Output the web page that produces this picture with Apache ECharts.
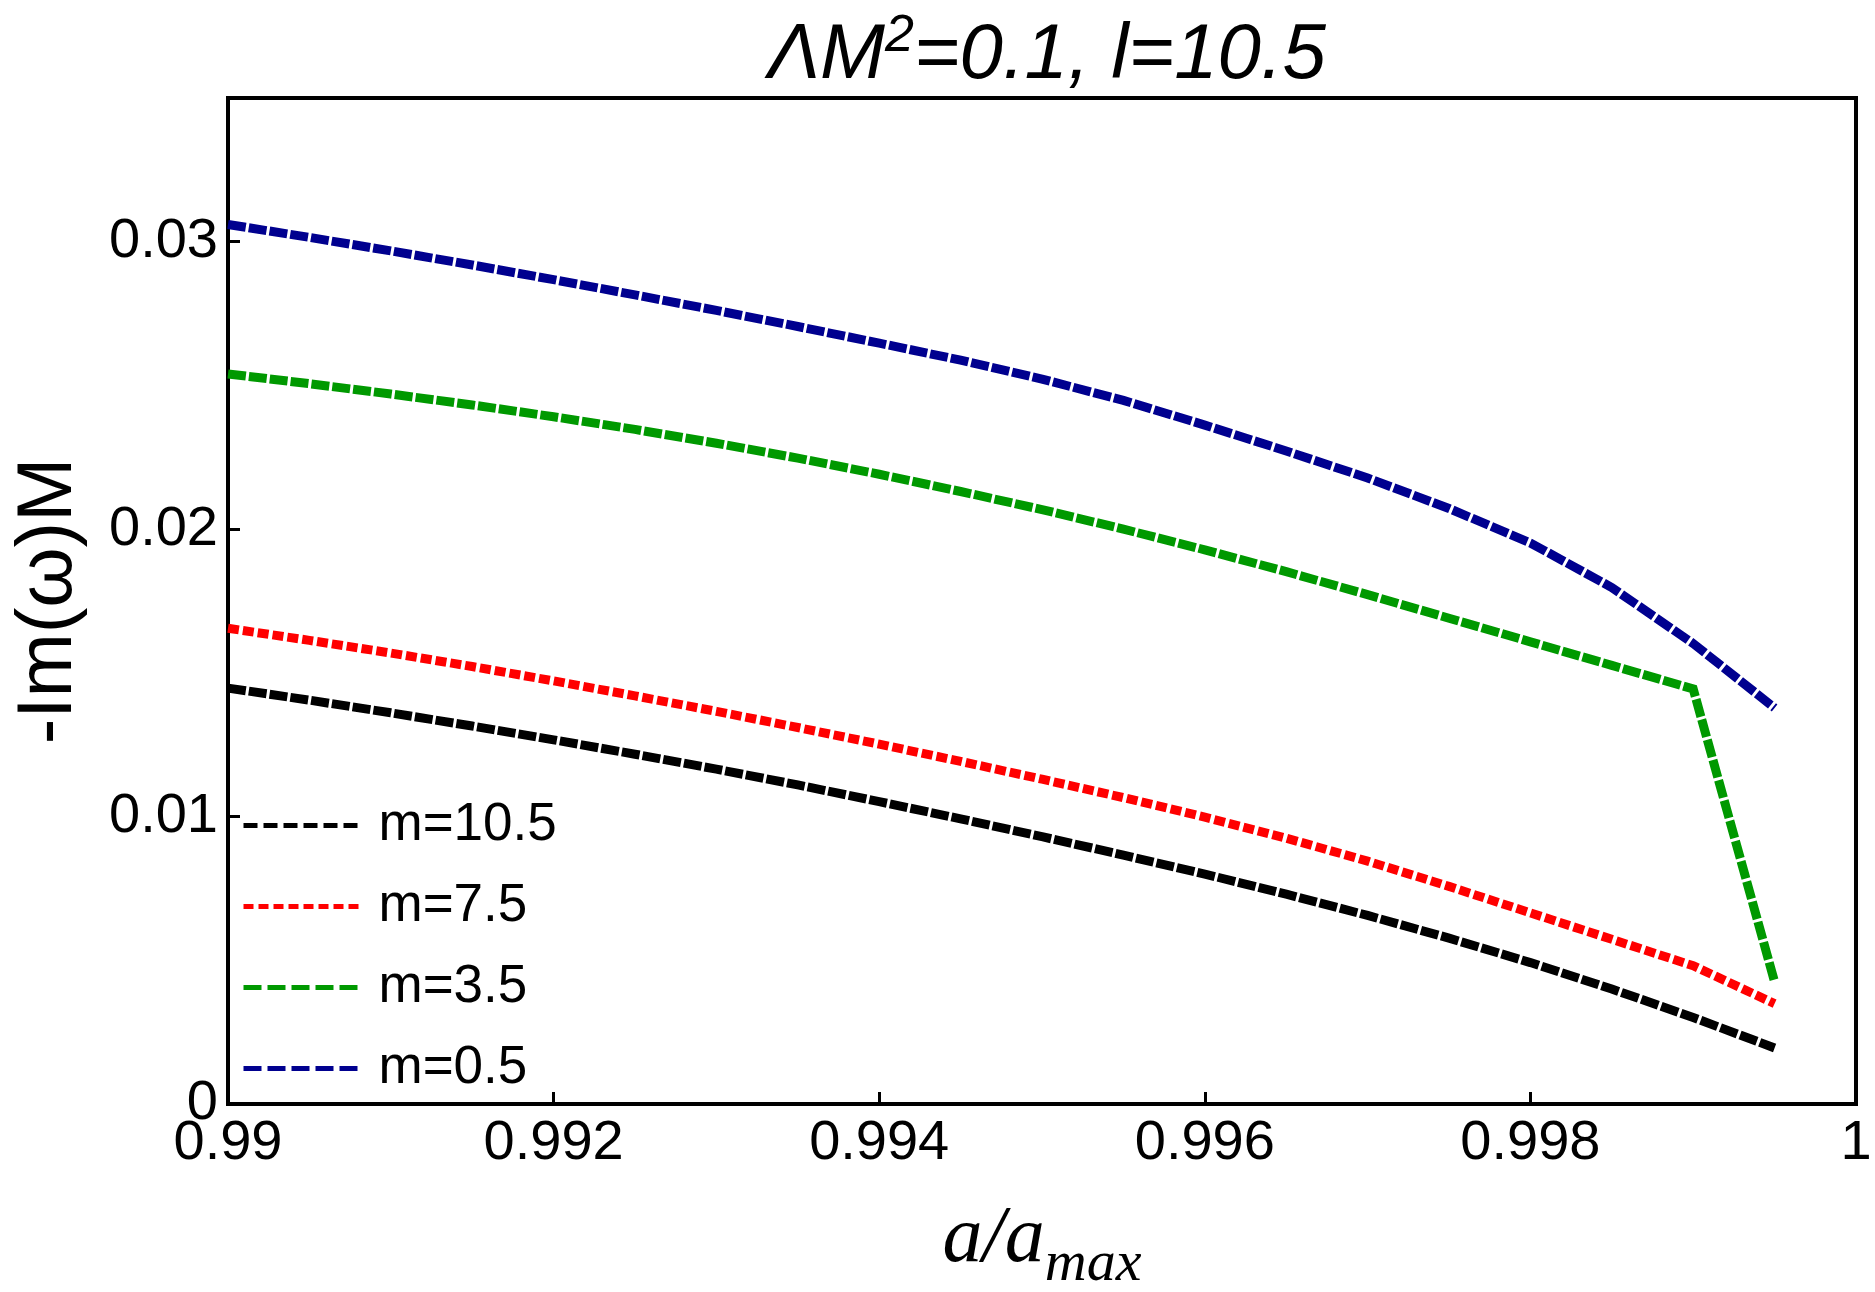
<!DOCTYPE html>
<html>
<head>
<meta charset="utf-8">
<title>-Im(ω)M vs a/a_max</title>
<script src="https://cdn.jsdelivr.net/npm/echarts@6/dist/echarts.min.js"></script>
<style>
  html, body { margin: 0; padding: 0; background: #fff; }
  #chart { width: 1875px; height: 1292px; }
</style>
</head>
<body>
<div id="chart"></div>
<script>
// a/a_max sample points
const xs = [0.99, 0.9905, 0.991, 0.9915, 0.992, 0.9925, 0.993, 0.9935, 0.994, 0.9945,
  0.995, 0.9955, 0.996, 0.9965, 0.997, 0.9975, 0.998, 0.9985, 0.999, 0.9995];

// -Im(omega)M for each m
const m105 = [0.01447, 0.01405, 0.01361, 0.01315, 0.01267, 0.01217, 0.01165, 0.01110, 0.01052, 0.00992,
  0.00930, 0.00866, 0.00800, 0.00730, 0.00656, 0.00577, 0.00492, 0.00400, 0.00301, 0.00195];
const m75 = [0.01655, 0.01613, 0.01569, 0.01522, 0.01472, 0.01420, 0.01366, 0.01310, 0.01252, 0.01192,
  0.01130, 0.01066, 0.00998, 0.00925, 0.00845, 0.00757, 0.00665, 0.00573, 0.00481, 0.00349];
const m35 = [0.02540, 0.02506, 0.02470, 0.02432, 0.02391, 0.02347, 0.02299, 0.02247, 0.02191, 0.02131,
  0.02068, 0.02000, 0.01928, 0.01852, 0.01772, 0.01690, 0.01608, 0.01526, 0.01444, 0.00425];
const m05 = [0.03060, 0.03015, 0.02968, 0.02919, 0.02868, 0.02815, 0.02761, 0.02705, 0.02647, 0.02588,
  0.02522, 0.02448, 0.02362, 0.02272, 0.02178, 0.02072, 0.01952, 0.01797, 0.01602, 0.01378];

const names = ['m=10.5', 'm=7.5', 'm=3.5', 'm=0.5'];
const colors = ['#000000', '#ff0000', '#009900', '#00008f'];
const values = [m105, m75, m35, m05];
const dashes = [[18, 3], [11, 4], [18, 3], [18, 3]];
const legendDashes = [[14, 6], [10, 5], [18, 6], [18, 6]];

const chart = echarts.init(document.getElementById('chart'));

const series = names.map((name, i) => ({
  name: name,
  type: 'line',
  data: xs.map((x, j) => [x, values[i][j]]),
  showSymbol: false,
  symbol: 'none',
  lineStyle: { color: colors[i], width: 9, type: dashes[i], cap: 'butt', join: 'miter' },
  itemStyle: { color: colors[i] },
  animation: false
}));

const titleFont = { fontFamily: 'Liberation Sans', fontStyle: 'italic', fontWeight: 'normal', color: '#000' };

chart.setOption({
  backgroundColor: '#fff',
  title: {
    text: '{a|ΛM}{s|2}{a|=0.1, l=10.5}',
    left: 1042,
    textAlign: 'center',
    top: 6,
    textStyle: {
      fontWeight: 'normal',
      rich: {
        a: Object.assign({ fontSize: 78, lineHeight: 84, verticalAlign: 'bottom' }, titleFont),
        s: Object.assign({ fontSize: 52, lineHeight: 84, verticalAlign: 'top', padding: [0, 0, 30, 0] }, titleFont)
      }
    }
  },
  grid: {
    left: 228, right: 19, top: 98, bottom: 188,
    containLabel: false,
    outerBoundsMode: 'none',
    show: true, borderColor: '#000', borderWidth: 4, backgroundColor: 'transparent'
  },
  legend: {
    orient: 'vertical',
    left: 236,
    top: 794,
    itemWidth: 120,
    itemHeight: 20,
    itemGap: 28,
    itemStyle: { opacity: 0 },
    textStyle: { fontFamily: 'Liberation Sans', fontSize: 53, color: '#000', lineHeight: 52, padding: [0, 0, 0, 10] },
    data: names.map((name, i) => ({
      name: name,
      itemStyle: { opacity: 0 },
      lineStyle: { width: 5, type: legendDashes[i], color: colors[i], cap: 'butt', opacity: 1 }
    }))
  },
  xAxis: {
    type: 'value',
    min: 0.99,
    max: 1,
    interval: 0.002,
    name: '{i|a/a}{sub|max}',
    nameLocation: 'middle',
    nameGap: 92,
    nameTextStyle: {
      rich: {
        i: { fontFamily: 'Liberation Serif', fontStyle: 'italic', fontSize: 80, color: '#000', lineHeight: 88 },
        sub: { fontFamily: 'Liberation Serif', fontStyle: 'italic', fontSize: 58, color: '#000', lineHeight: 88, verticalAlign: 'bottom', padding: [0, 0, -10, 0] }
      }
    },
    axisLine: { show: false },
    axisTick: { show: true, inside: true, length: 12, lineStyle: { color: '#000', width: 3 } },
    splitLine: { show: false },
    axisLabel: {
      margin: 12,
      fontFamily: 'Liberation Sans',
      fontSize: 56,
      color: '#000',
      formatter: v => String(parseFloat(v.toFixed(3)))
    }
  },
  yAxis: {
    type: 'value',
    min: 0,
    max: 0.035,
    interval: 0.01,
    name: '-Im(ω)M',
    nameLocation: 'middle',
    nameRotate: 90,
    nameGap: 140,
    nameTextStyle: { fontFamily: 'Liberation Sans', fontSize: 77, color: '#000' },
    axisLine: { show: false },
    axisTick: { show: true, inside: true, length: 12, lineStyle: { color: '#000', width: 3 } },
    splitLine: { show: false },
    axisLabel: {
      margin: 10,
      showMaxLabel: false,
      fontFamily: 'Liberation Sans',
      fontSize: 56,
      color: '#000',
      formatter: v => {
        if (v > 0.031) return '';
        return v === 0 ? '0' : v.toFixed(2);
      }
    }
  },
  series: series
});
</script>
</body>
</html>
